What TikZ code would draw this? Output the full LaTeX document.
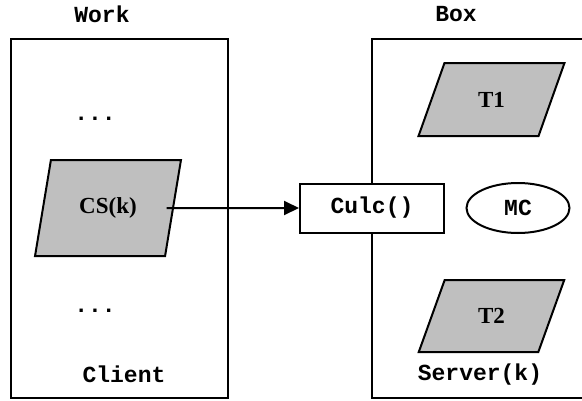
\documentclass[tikz,border=0pt]{standalone}
\usepackage{fontspec}
\setmainfont{Liberation Serif}
\setmonofont{Liberation Mono}
\usetikzlibrary{arrows.meta,shapes.geometric,positioning}

\begin{document}
\begin{tikzpicture}[x=1pt,y=-1pt,line width=2pt,>={Triangle[length=15pt,width=14pt]},
                    font=\fontsize{23}{27}\selectfont\bfseries,
                    every node/.style={inner sep=0pt},
                    lbl/.style={font=\fontsize{23}{27}\selectfont\ttfamily\bfseries},
                    host/.style={draw,rectangle,minimum width=217pt,minimum height=359pt},
                    task/.style={draw,fill=black!25,trapezium,trapezium stretches=true,
                                 minimum width=146pt},
                    call/.style={draw,fill=white,rectangle,minimum width=144pt,minimum height=49pt}]

  \useasboundingbox (0,0) rectangle (582,400);

  % client side
  \node[host]            (client)  at (119.5,218.5) {};
  \node[lbl]             (work)    at (102,14)      {Work};
  \node[lbl]             (dots1)   at (95,119)      {...};
  \node[task,minimum height=96pt,trapezium left angle=69,trapezium right angle=111]
                         (cs)      at (108,208)     {CS(k)};
  \node[lbl]             (dots2)   at (95,311)      {...};
  \node[lbl]             (cname)   at (124,374)     {Client};

  % server side
  \coordinate            (srvtop)  at (582,39);
  \coordinate            (srvbot)  at (582,398);
  \draw (srvtop) -| (372,398) -- (srvbot);
  \node[lbl]             (box)     at (456,14)      {Box};
  \node[task,minimum height=73pt,trapezium left angle=64,trapezium right angle=116]
                         (t1)      at (491.5,99.5)  {T1};
  \node[task,minimum height=72pt,trapezium left angle=64,trapezium right angle=116]
                         (t2)      at (491.5,316)   {T2};
  \node[call,lbl]        (culc)    at (372,208)     {Culc()};
  \node[draw,ellipse,lbl,minimum width=103pt,minimum height=50pt]
                         (mc)      at (518,208)     {MC};
  \node[lbl]             (sname)   at (480,375)     {Server(k)};

  \draw[->] ([xshift=-7.5pt]cs.east) -- (culc.west);
\end{tikzpicture}
\end{document}
